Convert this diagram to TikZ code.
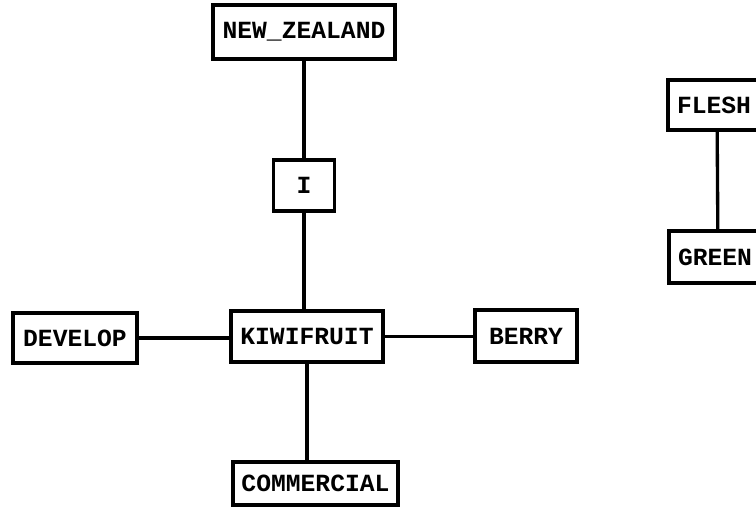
\documentclass[tikz,border=0pt]{standalone}
\usepackage{fontspec}
\newfontfamily\boxfont{Liberation Mono}[BoldFont={Liberation Mono Bold}]
\begin{document}
\begin{tikzpicture}[x=0.75pt,y=-0.75pt,
  box/.style={draw=black,line width=2.5pt,rectangle,inner sep=0pt,
    font=\boxfont\bfseries\fontsize{18.5}{20}\selectfont,text=black},
  link/.style={draw=black,line width=2.5pt}]
\useasboundingbox (0,0) rectangle (756,517);
\clip (0,0) rectangle (756,517);
\fill[white] (0,0) rectangle (756,517);
% nodes
\node[box,minimum width=182*0.75pt,minimum height=54*0.75pt] (nz) at (304,32) {NEW\_ZEALAND};
\node[box,minimum width=61*0.75pt,minimum height=51*0.75pt] (i) at (304,185.5) {I};
\node[box,minimum width=152*0.75pt,minimum height=51*0.75pt] (kiwi) at (307,336.5) {KIWIFRUIT};
\node[box,minimum width=124*0.75pt,minimum height=50*0.75pt] (dev) at (75,338) {DEVELOP};
\node[box,minimum width=102*0.75pt,minimum height=52*0.75pt] (berry) at (526,336) {BERRY};
\node[box,minimum width=165*0.75pt,minimum height=43*0.75pt] (com) at (315.5,483.5) {COMMERCIAL};
\node[box,minimum width=98*0.75pt,minimum height=50*0.75pt,text width=80*0.75pt,align=left] (flesh) at (717,105) {FLESH};
\node[box,minimum width=98*0.75pt,minimum height=52*0.75pt,text width=80*0.75pt,align=left] (green) at (718,257) {GREEN};
% connectors
\draw[link] (nz) -- (i);
\draw[link] (i) -- (i |- kiwi.north);
\draw[link] (dev) -- (dev -| kiwi.west);
\draw[link] (kiwi.east) -- (kiwi.east -| berry.west);
\draw[link] (kiwi.south) -- (kiwi.south |- com.north);
\draw[link] (flesh) -- (green);
\end{tikzpicture}
\end{document}
